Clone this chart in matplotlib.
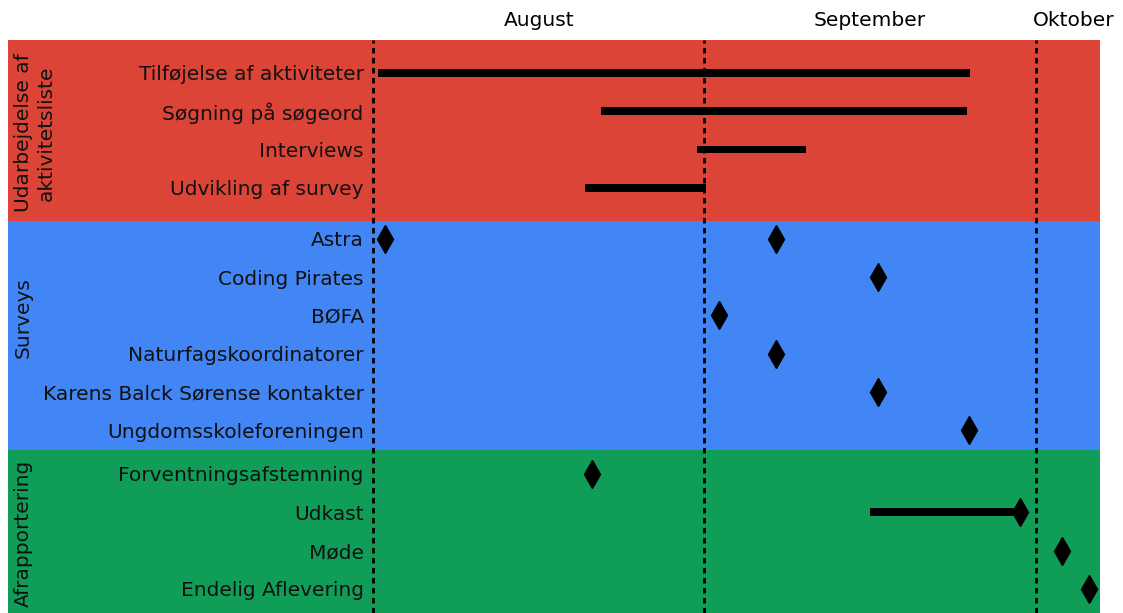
import matplotlib
matplotlib.use("Agg")
import matplotlib.pyplot as plt

# ---- data (x in days after 1 August) ----
groups = ["Udarbejdelse af\naktivitetsliste", "Surveys", "Afrapportering"]
group_colors = ["#DB4437", "#4285F4", "#0F9D58"]

tasks_red = ["Tilføjelse af aktiviteter", "Søgning på søgeord", "Interviews", "Udvikling af survey"]
red_start = [0.45, 20.6, 29.3, 19.2]
red_end = [54.0, 53.8, 39.2, 30.1]

tasks_blue = ["Astra", "Coding Pirates", "BØFA", "Naturfagskoordinatorer",
              "Karens Balck Sørense kontakter", "Ungdomsskoleforeningen"]
blue_points = [[1.1, 36.5], [45.7], [31.3], [36.5], [45.7], [53.9]]

tasks_green = ["Forventningsafstemning", "Udkast", "Møde", "Endelig Aflevering"]
green_points = [[19.8], [58.6], [62.4], [64.8]]
udkast_bar = (45.0, 58.3)

month_names = ["August", "September", "Oktober"]
month_label_days = [15, 45, 63.4]
month_lines = [0, 30, 60]

# ---- layout ----
fig = plt.figure(figsize=(11.23, 6.13), dpi=100)
ax_left, ax_right = 371.3 / 1123, 1100 / 1123
ax = fig.add_axes([ax_left, 0.0, ax_right - ax_left, (613 - 40) / 613])

offsets = [0.0, 0.33, 0.47]
all_tasks = tasks_red + tasks_blue + tasks_green
sizes = [len(tasks_red), len(tasks_blue), len(tasks_green)]
ypos = []
idx = 0
for g, n in enumerate(sizes):
    for i in range(n):
        ypos.append(idx + offsets[g])
        idx += 1
y_red = ypos[:4]
y_blue = ypos[4:10]
y_green = ypos[10:]

edges = [-0.86, 3.86, 9.84, 14.1]
xmin_frac = (8 - 371.3) / (1100 - 371.3)
for g in range(3):
    ax.axhspan(edges[g], edges[g + 1], xmin=xmin_frac, xmax=1, color=group_colors[g],
               clip_on=False, zorder=0, lw=0)

# bars
ax.barh(y_red, [e - s for s, e in zip(red_start, red_end)], left=red_start,
        height=0.2, color="black", zorder=3)
ax.barh([y_green[1]], [udkast_bar[1] - udkast_bar[0]], left=[udkast_bar[0]],
        height=0.2, color="black", zorder=3)

# milestones
for y, pts in zip(y_blue, blue_points):
    ax.plot(pts, [y] * len(pts), "kd", ms=14, zorder=4, clip_on=False)
for y, pts in zip(y_green, green_points):
    ax.plot(pts, [y] * len(pts), "kd", ms=14, zorder=4, clip_on=False)

for d in month_lines:
    ax.axvline(d, color="black", ls=(0, (2, 1.6)), lw=2, zorder=2)

ax.set_xlim(-0.15, 65.8)
ax.set_ylim(edges[-1], edges[0])

ax.set_yticks(ypos)
ax.set_yticklabels(all_tasks, fontsize=14.5, color="#111111")
ax.tick_params(axis="y", length=0, pad=5.5)

ax.xaxis.tick_top()
ax.set_xticks(month_label_days)
ax.set_xticklabels(month_names, fontsize=14.5)
ax.tick_params(axis="x", length=0, pad=7)

for s in ax.spines.values():
    s.set_visible(False)

# group labels
group_centers_px = [133, 318, 533]
for g, name in enumerate(groups):
    fig.text(14 / 1123, 1 - group_centers_px[g] / 613, name, rotation=90,
             ha="left", va="center", fontsize=14.5, color="#111111",
             multialignment="center", linespacing=1.25)

fig.savefig("out.png", dpi=100)
